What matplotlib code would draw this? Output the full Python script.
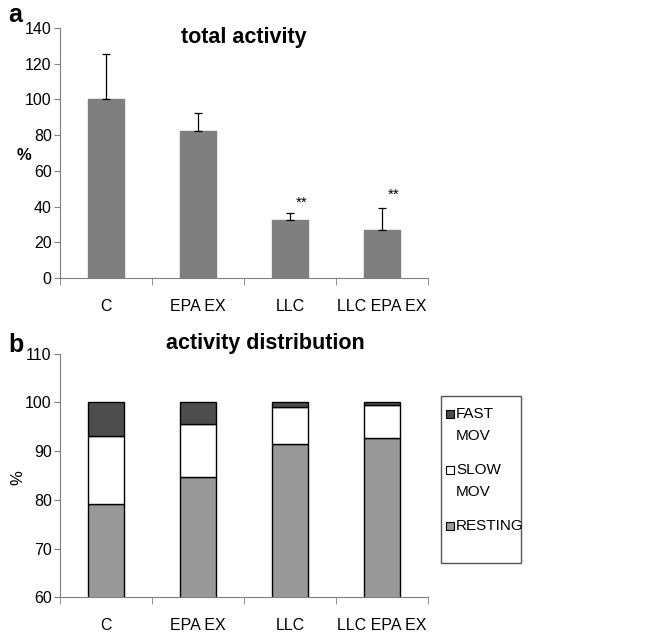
import matplotlib
matplotlib.use("Agg")
import matplotlib.pyplot as plt
from matplotlib.patches import Rectangle
import numpy as np

plt.rcParams['font.family'] = ['Liberation Sans', 'DejaVu Sans']

categories = ["C", "EPA EX", "LLC", "LLC EPA EX"]
total_activity = [100, 82.3, 32.3, 26.9]
total_err = [25.3, 10.3, 3.9, 12.5]
signif = ["", "", "**", "**"]
signif_y = [0, 0, 42.0, 46.8]

resting = [79.1, 84.7, 91.5, 92.7]
slow_mov = [14.1, 10.9, 7.6, 6.8]
fast_mov = [6.8, 4.4, 0.9, 0.5]

series_labels = [["FAST", "MOV"], ["SLOW", "MOV"], ["RESTING"]]
series_colors = ["#4d4d4d", "white", "#999999"]

fig = plt.figure(figsize=(6.5, 6.34), dpi=100)
W, H = 650, 634

def ax_rect(l, t, r, b):
    return [l / W, 1 - b / H, (r - l) / W, (b - t) / H]

def fx(px):
    return px / W

def fy(py):
    return 1 - py / H

x = np.arange(len(categories))
spine_col = "#7f7f7f"

def style(ax, ymin, ymax, step):
    ax.set_xlim(-0.5, len(categories) - 0.5)
    ax.set_ylim(ymin, ymax)
    ax.set_yticks(np.arange(ymin, ymax + 0.1, step))
    ax.spines['top'].set_visible(False)
    ax.spines['right'].set_visible(False)
    ax.spines['left'].set_color(spine_col)
    ax.spines['bottom'].set_color(spine_col)
    ax.set_xticks(x)
    ax.set_xticklabels(categories, fontsize=11.5)
    ax.tick_params(axis='x', which='major', length=0, pad=15)
    ax.set_xticks(np.arange(-0.5, len(categories)), minor=True)
    ax.tick_params(axis='x', which='minor', length=5, color=spine_col, direction='out')
    ax.tick_params(axis='y', length=4, color=spine_col, labelsize=11.5, pad=2)

# Panel a
ax1 = fig.add_axes(ax_rect(60, 28, 428, 278))
ax1.bar(x, total_activity, width=0.4, color="#7f7f7f", edgecolor="#7f7f7f", zorder=2)
ax1.errorbar(x, total_activity, yerr=[np.zeros(len(x)), total_err], fmt='none',
             ecolor='black', elinewidth=0.9, capsize=3, capthick=0.9, zorder=3)
for xi, s, sy in zip(x, signif, signif_y):
    if s:
        ax1.text(xi + 0.13, sy, s, ha='center', va='center', fontsize=11)
style(ax1, 0, 140, 20)
fig.text(fx(244), fy(38), "total activity", fontsize=15.5, fontweight='bold',
         ha='center', va='center')
fig.text(fx(17), fy(155), "%", fontsize=12, fontweight='bold', ha='left', va='center')
fig.text(fx(8), fy(15), "a", fontsize=18, fontweight='bold', ha='left', va='center')

# Panel b
ax2 = fig.add_axes(ax_rect(60, 353.7, 428, 597.3))
ax2.bar(x, resting, width=0.4, color=series_colors[2], edgecolor="black", linewidth=1, zorder=2)
ax2.bar(x, slow_mov, bottom=resting, width=0.4, color=series_colors[1], edgecolor="black",
        linewidth=1, zorder=2)
bottoms = [r + s for r, s in zip(resting, slow_mov)]
ax2.bar(x, fast_mov, bottom=bottoms, width=0.4, color=series_colors[0], edgecolor="black",
        linewidth=1, zorder=2)
style(ax2, 60, 110, 10)
fig.text(fx(265), fy(343), "activity distribution", fontsize=15.5, fontweight='bold',
         ha='center', va='center')
fig.text(fx(18), fy(478), "%", fontsize=12, rotation=90, ha='center', va='center')
fig.text(fx(8), fy(345), "b", fontsize=18, fontweight='bold', ha='left', va='center')

# Legend (drawn manually to align markers with the first text line)
fig.patches.append(Rectangle((fx(441), fy(563)), 80 / W, 167 / H,
                             transform=fig.transFigure, facecolor='white',
                             edgecolor='#555555', linewidth=1))
entry_top = [414, 470, 526]
line_gap = 22
sq = 8
for lines, col, y0 in zip(series_labels, series_colors, entry_top):
    fig.patches.append(Rectangle((fx(446), fy(y0 + sq / 2)), sq / W, sq / H,
                                 transform=fig.transFigure, facecolor=col,
                                 edgecolor='black', linewidth=0.8))
    for k, line in enumerate(lines):
        fig.text(fx(456), fy(y0 + k * line_gap), line, fontsize=11, ha='left', va='center')

fig.savefig("out.png", dpi=100)
